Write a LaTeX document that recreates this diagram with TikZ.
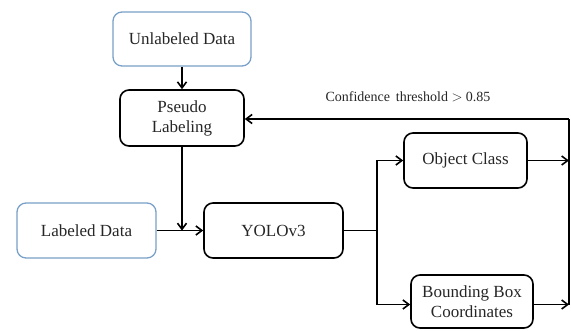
\documentclass[tikz,border=0pt]{standalone}
\usepackage{fontspec}
\setmainfont{Liberation Serif}
\usetikzlibrary{arrows.meta}
\begin{document}
\begin{tikzpicture}[x=1pt,y=-1pt,
  boxbase/.style={draw, line width=1.6pt, rounded corners=9pt, align=center, inner sep=0pt, font=\fontsize{17}{19}\selectfont, text=black!85},
  bluebox/.style={boxbase, draw={rgb,255:red,120;green,160;blue,200}, line width=1.3pt},
  blackbox/.style={boxbase, draw=black},
  conn/.style={line width=1.7pt, -{Straight Barb[length=6pt,width=9pt,line width=1.6pt]}},
  plain/.style={line width=1.7pt}
]
\useasboundingbox (0,0) rectangle (571,330);
\node[bluebox, minimum width=138pt, minimum height=54pt] (unl) at (182,39) {Unlabeled Data};
\node[blackbox, minimum width=124pt, minimum height=56pt] (pseudo) at (182,118) {Pseudo\\[1pt]Labeling};
\node[bluebox, minimum width=139pt, minimum height=55pt] (lab) at (86.5,230.5) {Labeled Data};
\node[blackbox, minimum width=139pt, minimum height=55pt] (yolo) at (273.5,230.5) {YOLOv3};
\node[blackbox, minimum width=123pt, minimum height=55pt] (obj) at (465.5,160.5) {Object Class};
\node[blackbox, minimum width=122pt, minimum height=53pt] (bb) at (472,301.5) {Bounding Box\\[1pt]Coordinates};
\node[font=\fontsize{14}{16}\selectfont, text=black!85] (conf) at (408,97) {Confidence\, threshold $>$ 0.85};
\coordinate (join) at (182,230.5);
\coordinate (split) at (377,230.5);
\coordinate (rbus) at (569,119);
\draw[conn] (unl) -- (pseudo);
\draw[conn] (pseudo) -- (join);
\draw[conn] (lab) -- (yolo);
\draw[plain] (yolo) -- (split);
\draw[conn] (split) |- (obj.west);
\draw[conn] (split) |- ([yshift=-3pt]bb.west);
\draw[conn] (obj.east) -- (obj.east -| rbus);
\draw[conn] ([yshift=-3pt]bb.east) -- ([yshift=-3pt]bb.east -| rbus);
\draw[plain] ([yshift=-3pt]bb.east -| rbus) -- (rbus);
\draw[conn] (rbus) -- (rbus -| pseudo.east);
\end{tikzpicture}
\end{document}
